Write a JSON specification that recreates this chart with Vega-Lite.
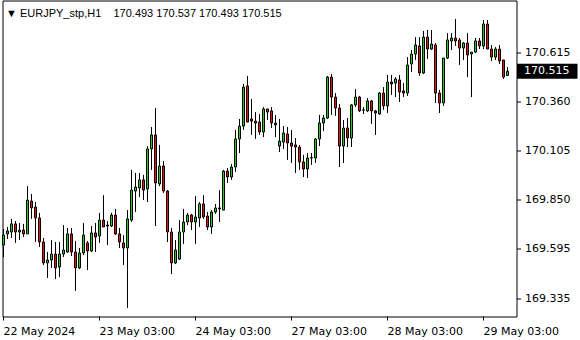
{
  "$schema": "https://vega.github.io/schema/vega-lite/v6.json",
  "width": 514,
  "height": 316,
  "autosize": {"type": "none"},
  "padding": {"left": 2.5, "top": 0.5, "right": 63.5, "bottom": 23.5},
  "background": "white",
  "config": {
    "view": {"stroke": "black", "strokeWidth": 1},
    "axis": {"labelFont": "DejaVu Sans", "labelFontSize": 11, "labelColor": "black", "tickColor": "black", "domainColor": "black", "grid": false, "domain": false}
  },
  "title": {"text": "▼ EURJPY_stp,H1 \u00a0\u00a0 170.493 170.537 170.493 170.515", "anchor": "start", "frame": "group", "orient": "top", "offset": -27, "baseline": "alphabetic", "font": "Liberation Sans", "fontSize": 11, "fontWeight": "normal", "color": "black", "dx": 3.5},
  "data": {"values": [
    {"t":0,"o":169.611,"h":169.695,"l":169.549,"c":169.663},
    {"t":1,"o":169.669,"h":169.705,"l":169.643,"c":169.684},
    {"t":2,"o":169.679,"h":169.747,"l":169.648,"c":169.721},
    {"t":3,"o":169.721,"h":169.736,"l":169.622,"c":169.679},
    {"t":4,"o":169.679,"h":169.726,"l":169.637,"c":169.689},
    {"t":5,"o":169.689,"h":169.721,"l":169.653,"c":169.669},
    {"t":6,"o":169.669,"h":169.918,"l":169.669,"c":169.845},
    {"t":7,"o":169.840,"h":169.877,"l":169.747,"c":169.804},
    {"t":8,"o":169.809,"h":169.835,"l":169.627,"c":169.752},
    {"t":9,"o":169.752,"h":169.778,"l":169.601,"c":169.627},
    {"t":10,"o":169.627,"h":169.648,"l":169.507,"c":169.518},
    {"t":11,"o":169.518,"h":169.575,"l":169.440,"c":169.533},
    {"t":12,"o":169.533,"h":169.637,"l":169.492,"c":169.564},
    {"t":13,"o":169.564,"h":169.627,"l":169.434,"c":169.492},
    {"t":14,"o":169.497,"h":169.627,"l":169.445,"c":169.564},
    {"t":15,"o":169.564,"h":169.715,"l":169.549,"c":169.585},
    {"t":16,"o":169.575,"h":169.700,"l":169.570,"c":169.669},
    {"t":17,"o":169.669,"h":169.700,"l":169.554,"c":169.575},
    {"t":18,"o":169.575,"h":169.632,"l":169.372,"c":169.492},
    {"t":19,"o":169.492,"h":169.596,"l":169.486,"c":169.570},
    {"t":20,"o":169.570,"h":169.726,"l":169.559,"c":169.663},
    {"t":21,"o":169.622,"h":169.632,"l":169.481,"c":169.580},
    {"t":22,"o":169.580,"h":169.710,"l":169.575,"c":169.674},
    {"t":23,"o":169.674,"h":169.726,"l":169.575,"c":169.653},
    {"t":24,"o":169.658,"h":169.778,"l":169.622,"c":169.741},
    {"t":25,"o":169.741,"h":169.871,"l":169.705,"c":169.705},
    {"t":26,"o":169.710,"h":169.736,"l":169.611,"c":169.715},
    {"t":27,"o":169.710,"h":169.778,"l":169.705,"c":169.767},
    {"t":28,"o":169.767,"h":169.799,"l":169.663,"c":169.669},
    {"t":29,"o":169.669,"h":169.700,"l":169.596,"c":169.627},
    {"t":30,"o":169.622,"h":169.663,"l":169.507,"c":169.596},
    {"t":31,"o":169.596,"h":169.793,"l":169.284,"c":169.747},
    {"t":32,"o":169.741,"h":170.002,"l":169.731,"c":169.897},
    {"t":33,"o":169.892,"h":169.986,"l":169.783,"c":169.913},
    {"t":34,"o":169.908,"h":169.986,"l":169.861,"c":169.950},
    {"t":35,"o":169.950,"h":169.976,"l":169.845,"c":169.897},
    {"t":36,"o":169.903,"h":170.126,"l":169.835,"c":170.111},
    {"t":37,"o":170.111,"h":170.225,"l":170.002,"c":170.184},
    {"t":38,"o":170.184,"h":170.324,"l":169.710,"c":169.934},
    {"t":39,"o":169.929,"h":170.132,"l":169.918,"c":170.022},
    {"t":40,"o":170.022,"h":170.048,"l":169.882,"c":169.892},
    {"t":41,"o":169.892,"h":169.897,"l":169.627,"c":169.679},
    {"t":42,"o":169.679,"h":169.700,"l":169.460,"c":169.518},
    {"t":43,"o":169.518,"h":169.637,"l":169.512,"c":169.585},
    {"t":44,"o":169.538,"h":169.741,"l":169.533,"c":169.679},
    {"t":45,"o":169.679,"h":169.799,"l":169.617,"c":169.731},
    {"t":46,"o":169.731,"h":169.778,"l":169.715,"c":169.767},
    {"t":47,"o":169.767,"h":169.773,"l":169.689,"c":169.731},
    {"t":48,"o":169.731,"h":169.866,"l":169.617,"c":169.757},
    {"t":49,"o":169.752,"h":169.835,"l":169.705,"c":169.825},
    {"t":50,"o":169.825,"h":169.871,"l":169.747,"c":169.757},
    {"t":51,"o":169.762,"h":169.783,"l":169.689,"c":169.705},
    {"t":52,"o":169.705,"h":169.793,"l":169.669,"c":169.783},
    {"t":53,"o":169.783,"h":169.825,"l":169.773,"c":169.804},
    {"t":54,"o":169.799,"h":169.897,"l":169.731,"c":169.804},
    {"t":55,"o":169.793,"h":170.002,"l":169.793,"c":169.996},
    {"t":56,"o":169.996,"h":170.012,"l":169.934,"c":169.965},
    {"t":57,"o":169.965,"h":170.033,"l":169.950,"c":170.017},
    {"t":58,"o":170.017,"h":170.210,"l":169.991,"c":170.163},
    {"t":59,"o":170.163,"h":170.267,"l":170.090,"c":170.230},
    {"t":60,"o":170.230,"h":170.449,"l":170.210,"c":170.433},
    {"t":61,"o":170.439,"h":170.491,"l":170.251,"c":170.251},
    {"t":62,"o":170.267,"h":170.371,"l":170.184,"c":170.256},
    {"t":63,"o":170.256,"h":170.303,"l":170.163,"c":170.246},
    {"t":64,"o":170.251,"h":170.293,"l":170.184,"c":170.199},
    {"t":65,"o":170.199,"h":170.329,"l":170.173,"c":170.319},
    {"t":66,"o":170.319,"h":170.319,"l":170.262,"c":170.303},
    {"t":67,"o":170.309,"h":170.329,"l":170.220,"c":170.246},
    {"t":68,"o":170.246,"h":170.288,"l":170.173,"c":170.236},
    {"t":69,"o":170.126,"h":170.267,"l":170.095,"c":170.152},
    {"t":70,"o":170.147,"h":170.230,"l":170.111,"c":170.194},
    {"t":71,"o":170.189,"h":170.225,"l":170.054,"c":170.142},
    {"t":72,"o":170.142,"h":170.210,"l":170.038,"c":170.126},
    {"t":73,"o":170.132,"h":170.168,"l":169.986,"c":170.121},
    {"t":74,"o":170.121,"h":170.132,"l":170.002,"c":170.043},
    {"t":75,"o":170.043,"h":170.080,"l":169.965,"c":170.007},
    {"t":76,"o":170.007,"h":170.090,"l":169.960,"c":170.064},
    {"t":77,"o":170.064,"h":170.090,"l":170.028,"c":170.066},
    {"t":78,"o":170.064,"h":170.168,"l":170.038,"c":170.163},
    {"t":79,"o":170.163,"h":170.288,"l":170.126,"c":170.246},
    {"t":80,"o":170.246,"h":170.288,"l":170.204,"c":170.272},
    {"t":81,"o":170.272,"h":170.491,"l":170.267,"c":170.485},
    {"t":82,"o":170.485,"h":170.501,"l":170.288,"c":170.381},
    {"t":83,"o":170.381,"h":170.402,"l":170.283,"c":170.324},
    {"t":84,"o":170.324,"h":170.345,"l":170.017,"c":170.126},
    {"t":85,"o":170.126,"h":170.262,"l":170.038,"c":170.220},
    {"t":86,"o":170.220,"h":170.272,"l":170.121,"c":170.168},
    {"t":87,"o":170.168,"h":170.345,"l":170.121,"c":170.340},
    {"t":88,"o":170.340,"h":170.423,"l":170.329,"c":170.381},
    {"t":89,"o":170.381,"h":170.387,"l":170.303,"c":170.309},
    {"t":90,"o":170.314,"h":170.329,"l":170.293,"c":170.313},
    {"t":91,"o":170.309,"h":170.376,"l":170.303,"c":170.361},
    {"t":92,"o":170.361,"h":170.366,"l":170.241,"c":170.309},
    {"t":93,"o":170.309,"h":170.314,"l":170.184,"c":170.298},
    {"t":94,"o":170.293,"h":170.407,"l":170.288,"c":170.402},
    {"t":95,"o":170.402,"h":170.433,"l":170.314,"c":170.335},
    {"t":96,"o":170.335,"h":170.496,"l":170.298,"c":170.459},
    {"t":97,"o":170.459,"h":170.496,"l":170.392,"c":170.449},
    {"t":98,"o":170.454,"h":170.485,"l":170.381,"c":170.475},
    {"t":99,"o":170.470,"h":170.496,"l":170.355,"c":170.407},
    {"t":100,"o":170.413,"h":170.454,"l":170.381,"c":170.402},
    {"t":101,"o":170.402,"h":170.589,"l":170.387,"c":170.548},
    {"t":102,"o":170.553,"h":170.626,"l":170.511,"c":170.605},
    {"t":103,"o":170.605,"h":170.693,"l":170.574,"c":170.652},
    {"t":104,"o":170.647,"h":170.693,"l":170.491,"c":170.506},
    {"t":105,"o":170.506,"h":170.725,"l":170.501,"c":170.693},
    {"t":106,"o":170.693,"h":170.730,"l":170.579,"c":170.631},
    {"t":107,"o":170.631,"h":170.730,"l":170.626,"c":170.657},
    {"t":108,"o":170.652,"h":170.662,"l":170.350,"c":170.402},
    {"t":109,"o":170.402,"h":170.418,"l":170.298,"c":170.350},
    {"t":110,"o":170.350,"h":170.584,"l":170.335,"c":170.584},
    {"t":111,"o":170.584,"h":170.714,"l":170.579,"c":170.678},
    {"t":112,"o":170.673,"h":170.714,"l":170.626,"c":170.688},
    {"t":113,"o":170.688,"h":170.787,"l":170.647,"c":170.673},
    {"t":114,"o":170.678,"h":170.688,"l":170.548,"c":170.636},
    {"t":115,"o":170.636,"h":170.667,"l":170.574,"c":170.662},
    {"t":116,"o":170.662,"h":170.714,"l":170.485,"c":170.600},
    {"t":117,"o":170.605,"h":170.615,"l":170.381,"c":170.615},
    {"t":118,"o":170.615,"h":170.688,"l":170.610,"c":170.673},
    {"t":119,"o":170.673,"h":170.688,"l":170.631,"c":170.647},
    {"t":120,"o":170.647,"h":170.782,"l":170.631,"c":170.761},
    {"t":121,"o":170.761,"h":170.782,"l":170.631,"c":170.631},
    {"t":122,"o":170.631,"h":170.652,"l":170.569,"c":170.589},
    {"t":123,"o":170.589,"h":170.641,"l":170.574,"c":170.631},
    {"t":124,"o":170.631,"h":170.652,"l":170.553,"c":170.569},
    {"t":125,"o":170.574,"h":170.574,"l":170.475,"c":170.485},
    {"t":126,"o":170.493,"h":170.537,"l":170.493,"c":170.515}
  ]},
  "layer": [
    {
      "mark": {"type": "rule", "color": "black", "strokeWidth": 1},
      "encoding": {
        "x": {"field": "t", "type": "quantitative",
              "scale": {"domain": [-0.25, 128.25], "nice": false, "zero": false, "padding": 0},
              "axis": {"title": null, "values": [0, 24, 48, 72, 96, 120], "translate": 0,
                       "labelExpr": "datum.value == 0 ? '22 May 2024' : datum.value == 24 ? '23 May 03:00' : datum.value == 48 ? '24 May 03:00' : datum.value == 72 ? '27 May 03:00' : datum.value == 96 ? '28 May 03:00' : '29 May 03:00'",
                       "labelAlign": "left", "labelBaseline": "top", "tickSize": 4, "labelPadding": 5,
                       "labelOverlap": false, "labelFlush": false, "labelBound": false}},
        "y": {"field": "l", "type": "quantitative",
              "scale": {"domain": [169.2393, 170.8834], "nice": false, "zero": false, "padding": 0},
              "axis": {"title": null, "orient": "right", "values": [169.335, 169.595, 169.85, 170.105, 170.36, 170.615],
                       "format": ".3f", "tickSize": 4, "labelPadding": 4, "labelOverlap": false, "labelFlush": false, "labelBound": false}},
        "y2": {"field": "h"}
      }
    },
    {
      "mark": {"type": "bar", "size": 2, "stroke": "black", "strokeWidth": 1},
      "encoding": {
        "x": {"field": "t", "type": "quantitative"},
        "y": {"field": "o", "type": "quantitative"},
        "y2": {"field": "c"},
        "fill": {"condition": {"test": "datum.c >= datum.o", "value": "#22cc22"}, "value": "#ee1111"}
      }
    },
    {
      "data": {"values": [{"p": 170.515}]},
      "mark": {"type": "bar", "size": 15, "color": "black", "orient": "horizontal"},
      "encoding": {
        "x": {"datum": 128.375},
        "x2": {"datum": 143.5},
        "y": {"field": "p", "type": "quantitative"}
      }
    },
    {
      "data": {"values": [{"p": 170.515}]},
      "mark": {"type": "text", "color": "white", "align": "left", "baseline": "middle", "font": "DejaVu Sans", "fontSize": 11},
      "encoding": {
        "x": {"datum": 130.125},
        "y": {"field": "p", "type": "quantitative"},
        "text": {"field": "p", "type": "quantitative", "format": ".3f"}
      }
    }
  ]
}
